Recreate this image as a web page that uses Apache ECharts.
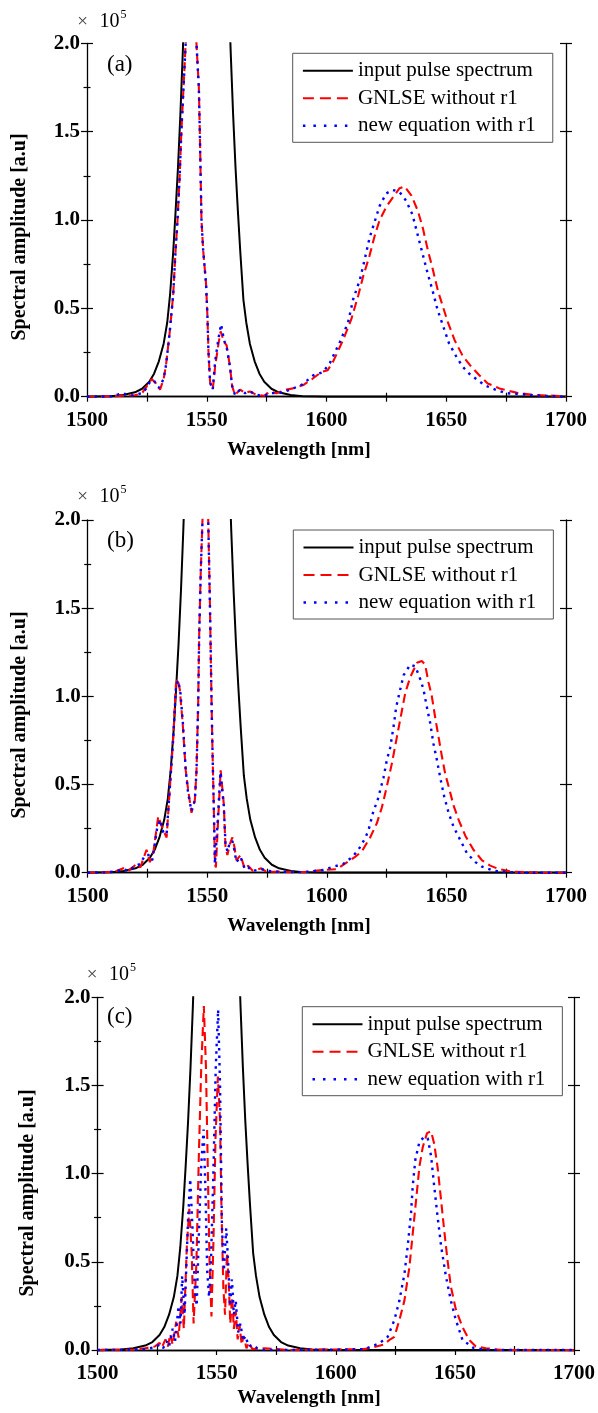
<!DOCTYPE html>
<html><head><meta charset="utf-8">
<script src="https://cdn.jsdelivr.net/npm/echarts@6/dist/echarts.min.js"></script>
<style>html,body{margin:0;padding:0;background:#fff}#c{width:598px;height:1413px}</style>
</head><body><div id="c"></div><script>
// ---------- data (values in units of 10^5 a.u.) ----------
const xTickValues = [1500, 1550, 1600, 1650, 1700];
const yTickValues = [0.0, 0.5, 1.0, 1.5, 2.0];
const seriesNames = ['input pulse spectrum', 'GNLSE without r1', 'new equation with r1'];
const panelLabels = ['(a)', '(b)', '(c)'];

const inputPulse = [[1500,0],[1510,0.003],[1515,0.01],[1520,0.025],[1523,0.045],[1526,0.085],[1528,0.13],[1530,0.2],[1532,0.3],[1533.5,0.42],[1534.7,0.58],[1536,0.82],[1537,1.05],[1538,1.3],[1539,1.6],[1540,1.95],[1540.5,2.15],[1550,9],[1559.5,2.15],[1560,1.95],[1561,1.6],[1562,1.3],[1563,1.05],[1564,0.82],[1565.3,0.55],[1566.5,0.42],[1568,0.3],[1570,0.2],[1572,0.13],[1574,0.085],[1577,0.045],[1580,0.025],[1585,0.01],[1590,0.003],[1600,0],[1700,0]];

const gnlseA = [[1500,0],[1510,0.002],[1515,0.005],[1520,0.008],[1523,0.02],[1525,0.06],[1527,0.1],[1528.5,0.08],[1530.5,0.04],[1532,0.1],[1533,0.18],[1534.5,0.36],[1536,0.58],[1537,0.83],[1537.8,1.0],[1538.7,1.25],[1539.4,1.5],[1540.3,1.75],[1541.2,2.0],[1543.5,2.6],[1545.7,2.0],[1546.7,1.75],[1547.1,1.5],[1547.8,1.0],[1548.5,0.83],[1549.7,0.64],[1550.3,0.45],[1550.7,0.26],[1551.4,0.08],[1552.5,0.04],[1553.5,0.17],[1554.9,0.30],[1555.8,0.37],[1557.2,0.31],[1558.3,0.29],[1559.7,0.17],[1560.6,0.06],[1561.8,0.01],[1563.9,0.04],[1566,0.02],[1568,0.03],[1570.8,0.01],[1574,0.005],[1576.4,0.03],[1579,0.02],[1583.3,0.04],[1587,0.05],[1590.3,0.066],[1594,0.10],[1597.9,0.14],[1600.5,0.15],[1602.8,0.20],[1606.9,0.32],[1610.4,0.44],[1613.2,0.57],[1615.3,0.68],[1618,0.80],[1620.1,0.91],[1622.2,1.0],[1625,1.075],[1627.8,1.13],[1630.5,1.18],[1632.6,1.19],[1635.4,1.14],[1638.2,1.05],[1640.3,0.95],[1642.3,0.83],[1644.4,0.72],[1646.5,0.60],[1648.6,0.51],[1650.7,0.42],[1653.5,0.32],[1656.9,0.23],[1660.4,0.17],[1663.9,0.12],[1667.3,0.075],[1672.2,0.047],[1679.2,0.023],[1686,0.01],[1695.7,0.005],[1700,0]];

const newEqA = [[1500,0],[1510,0.002],[1515,0.02],[1518,0.005],[1523,0.02],[1525,0.05],[1526.5,0.09],[1528,0.09],[1530,0.05],[1532,0.1],[1533,0.18],[1534.5,0.36],[1536,0.58],[1537,0.83],[1537.8,1.0],[1538.7,1.25],[1539.4,1.5],[1540.3,1.75],[1541.2,2.0],[1543.5,2.6],[1545.7,2.0],[1546.7,1.75],[1547.1,1.5],[1547.8,1.0],[1548.5,0.83],[1549.7,0.64],[1550.3,0.45],[1550.7,0.26],[1551.4,0.08],[1552.5,0.04],[1553.5,0.2],[1554.9,0.33],[1556,0.41],[1557.2,0.32],[1558.3,0.28],[1559.7,0.17],[1560.6,0.06],[1561.8,0.01],[1563.9,0.04],[1566,0.02],[1568,0.03],[1570.8,0.01],[1574,0.005],[1576.4,0.02],[1580,0.02],[1584.6,0.038],[1590,0.07],[1594.4,0.12],[1598.6,0.14],[1601.4,0.19],[1605.6,0.31],[1609,0.42],[1611.1,0.55],[1613.9,0.66],[1616,0.78],[1618,0.90],[1620.1,0.99],[1622.2,1.08],[1624.9,1.15],[1627.6,1.17],[1630.4,1.16],[1633.2,1.11],[1635.9,1.03],[1638,0.92],[1640.1,0.81],[1642.2,0.70],[1644.3,0.60],[1646.4,0.49],[1649.2,0.38],[1651.2,0.30],[1654.1,0.23],[1656.8,0.17],[1659.6,0.13],[1662.5,0.10],[1666,0.065],[1670.8,0.038],[1675,0.02],[1680.6,0.015],[1690,0.005],[1700,0]];

const gnlseB = [[1500,0],[1508,0.003],[1512,0.01],[1514.9,0.025],[1517,0.01],[1520.5,0.05],[1522,0.03],[1524.6,0.13],[1526,0.06],[1527.5,0.12],[1529.5,0.32],[1530.5,0.28],[1531.6,0.24],[1533,0.20],[1534.4,0.49],[1535.8,0.77],[1536.9,1.07],[1537.6,1.10],[1538.5,1.04],[1539.7,0.85],[1541,0.58],[1542,0.47],[1543.4,0.34],[1544.8,0.41],[1545.5,0.58],[1546.2,0.96],[1546.6,1.34],[1547.3,1.72],[1548,2.0],[1549.2,2.4],[1550.4,2.0],[1551.1,1.53],[1551.8,0.96],[1552.2,0.68],[1552.7,0.39],[1553.2,0.05],[1553.6,0.03],[1554.6,0.32],[1555.6,0.58],[1555.9,0.59],[1556.9,0.39],[1557.6,0.15],[1558.4,0.10],[1559.4,0.16],[1560.5,0.20],[1561.3,0.15],[1562.2,0.07],[1563.9,0.10],[1565.7,0.02],[1567.1,0.04],[1569,0.01],[1572.6,0.025],[1574.7,0.005],[1580,0.005],[1590,0.003],[1598,0.015],[1604.2,0.02],[1609.7,0.07],[1611.8,0.09],[1614.6,0.12],[1618.1,0.20],[1620.9,0.28],[1623,0.37],[1625.1,0.49],[1627.2,0.62],[1629.3,0.77],[1631.4,0.92],[1632.8,1.02],[1634.9,1.11],[1637.7,1.19],[1639.7,1.20],[1641.1,1.18],[1642.5,1.08],[1643.9,1.00],[1645.3,0.88],[1646.7,0.77],[1648.1,0.66],[1649.5,0.56],[1651.3,0.47],[1653,0.38],[1655.1,0.30],[1657.9,0.21],[1661.3,0.13],[1664.9,0.07],[1668.3,0.04],[1672,0.02],[1678,0.005],[1690,0],[1700,0]];

const newEqB = [[1500,0],[1508,0.002],[1512,0.008],[1515,0.02],[1517,0.01],[1520,0.04],[1522,0.05],[1524,0.1],[1525.5,0.1],[1527,0.07],[1529,0.25],[1530.2,0.3],[1531.8,0.22],[1533,0.22],[1534.4,0.49],[1535.8,0.77],[1536.9,1.05],[1537.8,1.09],[1538.7,1.03],[1539.8,0.85],[1541,0.58],[1542,0.45],[1543.4,0.35],[1544.8,0.41],[1545.5,0.58],[1546.2,0.96],[1546.6,1.34],[1547.3,1.72],[1548,2.0],[1549.2,2.4],[1550.4,2.0],[1551.1,1.53],[1551.8,0.96],[1552.2,0.68],[1552.7,0.39],[1553.2,0.05],[1553.6,0.04],[1554.6,0.35],[1555.5,0.57],[1556,0.57],[1556.9,0.38],[1557.6,0.17],[1558.4,0.12],[1559.4,0.17],[1560.5,0.18],[1561.3,0.13],[1562.2,0.06],[1563.9,0.09],[1565.7,0.02],[1567.1,0.03],[1569,0.01],[1572.6,0.02],[1576,0.01],[1580,0.005],[1590,0.003],[1598.6,0.015],[1602.8,0.034],[1606.9,0.05],[1610.5,0.087],[1613.2,0.13],[1616,0.195],[1617.4,0.24],[1619.5,0.35],[1621.2,0.41],[1623.7,0.54],[1625.1,0.64],[1626.5,0.71],[1627.9,0.83],[1629,0.94],[1630.7,1.04],[1632.1,1.12],[1634.9,1.18],[1637,1.17],[1639,1.10],[1640.4,1.04],[1642.1,0.92],[1643.2,0.85],[1644.6,0.73],[1646,0.64],[1647.4,0.54],[1649.1,0.43],[1650.9,0.34],[1653,0.26],[1655.8,0.185],[1658.6,0.11],[1662.1,0.06],[1664.9,0.034],[1670,0.01],[1680,0],[1700,0]];

const gnlseC = [[1500,0],[1515,0.002],[1520,0.01],[1524,0.02],[1526,0.04],[1527,0.015],[1528.5,0.06],[1529.5,0.02],[1530.5,0.09],[1531.5,0.03],[1533,0.16],[1534,0.07],[1535.3,0.3],[1536.2,0.12],[1537.5,0.6],[1538.5,0.8],[1539.5,0.55],[1540.3,0.15],[1541.5,0.5],[1542.5,1.1],[1543.5,1.6],[1544.6,1.95],[1545.5,1.6],[1546.3,1.0],[1547,0.5],[1547.8,0.19],[1548.6,0.6],[1549.5,1.2],[1550.5,1.55],[1551.4,1.3],[1552,0.8],[1552.8,0.35],[1553.5,0.2],[1554.3,0.55],[1555,0.4],[1555.7,0.15],[1556.5,0.3],[1557.2,0.12],[1558,0.22],[1558.8,0.06],[1559.6,0.14],[1560.5,0.03],[1561.3,0.08],[1562.5,0.01],[1563.5,0.04],[1565,0.005],[1570,0.01],[1580,0],[1600,0.003],[1612,0.005],[1617,0.02],[1620,0.03],[1622.5,0.057],[1624.6,0.075],[1626.7,0.17],[1628.8,0.28],[1630.9,0.47],[1632.3,0.66],[1633.7,0.85],[1635.1,1.04],[1636.5,1.15],[1638.3,1.23],[1640,1.24],[1641.3,1.17],[1642.7,1.04],[1644.2,0.85],[1645.5,0.68],[1646.9,0.51],[1648.3,0.36],[1650.4,0.23],[1653.2,0.13],[1656,0.057],[1658.8,0.02],[1663,0.01],[1670,0],[1700,0]];

const newEqC = [[1500,0],[1515,0.002],[1520,0.005],[1524,0.015],[1526,0.03],[1527.5,0.01],[1529,0.05],[1530,0.02],[1531.5,0.12],[1532.5,0.05],[1534,0.25],[1534.8,0.15],[1535.5,0.42],[1536.5,0.2],[1538,0.75],[1538.9,0.97],[1539.8,0.7],[1540.8,0.35],[1541.6,0.25],[1542.5,0.65],[1543.5,1.05],[1544.5,1.25],[1545.3,0.9],[1546,0.45],[1546.8,0.3],[1547.6,0.5],[1548.6,1.0],[1549.6,1.6],[1550.6,1.93],[1551.4,1.5],[1552.2,0.7],[1553,0.45],[1554,0.69],[1554.8,0.5],[1555.6,0.25],[1556.4,0.4],[1557.2,0.2],[1558,0.28],[1559,0.1],[1560,0.15],[1561,0.05],[1562,0.08],[1563.5,0.02],[1565,0.03],[1567,0.01],[1570,0],[1600,0.002],[1612,0.005],[1618.3,0.038],[1621.8,0.075],[1624.6,0.17],[1626.7,0.28],[1628.8,0.43],[1630.2,0.59],[1631.6,0.78],[1632.3,0.93],[1633.4,1.08],[1635.1,1.18],[1637.2,1.21],[1638.6,1.2],[1640,1.10],[1641.3,0.93],[1642.7,0.76],[1644.2,0.59],[1646.2,0.42],[1648.3,0.28],[1650.4,0.17],[1653.2,0.057],[1658,0.01],[1665,0],[1700,0]];

const panelData = [[inputPulse, gnlseA, newEqA], [inputPulse, gnlseB, newEqB], [inputPulse, gnlseC, newEqC]];

// ---------- layout ----------
const FONT = 'Liberation Serif';
const grids = [
  {left: 87, top: 43.3, width: 479, height: 353.4},
  {left: 87.7, top: 520, width: 478.3, height: 352.7},
  {left: 97.6, top: 997.3, width: 477.4, height: 352.7}
];
const legendPos = [{left: 292.7, top: 53.3}, {left: 293.3, top: 530}, {left: 302.3, top: 1006.7}];
const xTitlePos = [[299, 450], [299, 926], [309, 1398]];
const yTitlePos = [[20, 237], [20, 715], [28, 1193]];
const expPos = [[82.5, 22], [82.5, 497], [92, 975]];
const labelPos = [[107, 65], [107, 541], [107, 1017]];

const axisLine = {show: true, lineStyle: {color: '#000', width: 1.3}};
const xAxes = [], yAxes = [], series = [], legends = [], graphics = [];
const colors = ['#000000', '#ff0000', '#0000ff'];
const lineTypes = ['solid', [9, 5], [2.5, 5]];
const legendLineTypes = ['solid', [11, 6], [2.5, 8]];
const widths = [2, 2.1, 2.4];

grids.forEach((g, i) => {
  const xMin = xTickValues[0], xMax = xTickValues[xTickValues.length - 1];
  const yMin = yTickValues[0], yMax = yTickValues[yTickValues.length - 1];
  xAxes.push({
    type: 'value', gridIndex: i, position: 'bottom', min: xMin, max: xMax, interval: 50,
    axisLine, splitLine: {show: false},
    axisTick: {show: true, length: 5, lineStyle: {color: '#000', width: 1.2}},
    minorTick: {show: true, splitNumber: 2, length: 5, lineStyle: {color: '#000', width: 1.2}},
    axisLabel: {margin: 13, fontFamily: FONT, fontWeight: 'bold', fontSize: 21, color: '#000', formatter: v => String(v)}
  });
  xAxes.push({
    type: 'value', gridIndex: i, position: 'top', min: xMin, max: xMax, interval: 50,
    axisLine, splitLine: {show: false},
    axisTick: {show: true, length: 4, customValues: [1525, 1575, 1625, 1675], lineStyle: {color: '#000', width: 1.2}},
    axisLabel: {show: false}
  });
  const yBase = {type: 'value', gridIndex: i, min: yMin, max: yMax, interval: 0.5, splitLine: {show: false}};
  yAxes.push(Object.assign({}, yBase, {
    position: 'left', axisLine,
    axisTick: {show: true, length: 6, lineStyle: {color: '#000', width: 1.2}},
    minorTick: {show: true, splitNumber: 2, length: 3.5, lineStyle: {color: '#000', width: 1.2}},
    axisLabel: {margin: 7, fontFamily: FONT, fontWeight: 'bold', fontSize: 21, color: '#000', formatter: v => v.toFixed(1)}
  }));
  yAxes.push(Object.assign({}, yBase, {
    position: 'left', axisLine: {show: false},
    axisTick: {show: true, inside: true, length: 6, lineStyle: {color: '#000', width: 1.2}},
    minorTick: {show: true, splitNumber: 2, length: 3.5, lineStyle: {color: '#000', width: 1.2}},
    axisLabel: {show: false}
  }));
  yAxes.push(Object.assign({}, yBase, {
    position: 'right', axisLine,
    axisTick: {show: true, length: 6, lineStyle: {color: '#000', width: 1.2}},
    axisLabel: {show: false}
  }));
  yAxes.push(Object.assign({}, yBase, {
    position: 'right', axisLine: {show: false},
    axisTick: {show: true, inside: true, length: 6, lineStyle: {color: '#000', width: 1.2}},
    axisLabel: {show: false}
  }));
  panelData[i].forEach((d, k) => {
    series.push({
      type: 'line', name: seriesNames[k], xAxisIndex: i * 2, yAxisIndex: i * 4,
      data: d, showSymbol: false, symbol: 'none', clip: true, animation: false,
      lineStyle: {color: colors[k], width: widths[k], type: lineTypes[k]},
      itemStyle: {color: colors[k]}, z: 2 + k
    });
  });
  legends.push({
    data: seriesNames.map((n, k) => ({name: n, lineStyle: {type: legendLineTypes[k], width: widths[k]}})),
    orient: 'vertical', left: legendPos[i].left, top: legendPos[i].top,
    padding: [7, 17, 6, 9], itemGap: 6.5, itemWidth: 50, itemHeight: 14,
    borderColor: '#555', borderWidth: 1, backgroundColor: '#fff', selectedMode: false,
    itemStyle: {opacity: 0, borderWidth: 0},
    textStyle: {fontFamily: FONT, fontSize: 21, color: '#000', lineHeight: 21}
  });
  graphics.push({type: 'text', x: xTitlePos[i][0], y: xTitlePos[i][1],
    style: {text: 'Wavelength [nm]', font: 'bold 19.5px ' + FONT, fill: '#000', align: 'center', verticalAlign: 'middle'}});
  graphics.push({type: 'text', x: yTitlePos[i][0], y: yTitlePos[i][1], rotation: Math.PI / 2,
    style: {text: 'Spectral amplitude [a.u]', font: 'bold 20px ' + FONT, fill: '#000', align: 'center', verticalAlign: 'middle'}});
  graphics.push({type: 'text', x: expPos[i][0], y: expPos[i][1],
    style: {text: '×', font: '19px ' + FONT, fill: '#444', align: 'center', verticalAlign: 'middle'}});
  graphics.push({type: 'text', x: expPos[i][0] + 17, y: expPos[i][1],
    style: {text: '10', font: '20px ' + FONT, fill: '#000', align: 'left', verticalAlign: 'middle'}});
  graphics.push({type: 'text', x: expPos[i][0] + 38, y: expPos[i][1] - 7,
    style: {text: '5', font: '12px ' + FONT, fill: '#000', align: 'left', verticalAlign: 'middle'}});
  graphics.push({type: 'text', x: labelPos[i][0], y: labelPos[i][1],
    style: {text: panelLabels[i], font: '23px ' + FONT, fill: '#000', align: 'left', verticalAlign: 'middle'}});
});

const chart = echarts.init(document.getElementById('c'), null, {renderer: 'canvas'});
chart.setOption({
  animation: false, backgroundColor: '#fff',
  grid: grids.map(g => Object.assign({containLabel: false}, g)),
  xAxis: xAxes, yAxis: yAxes, series, legend: legends, graphic: graphics
});
</script></body></html>
